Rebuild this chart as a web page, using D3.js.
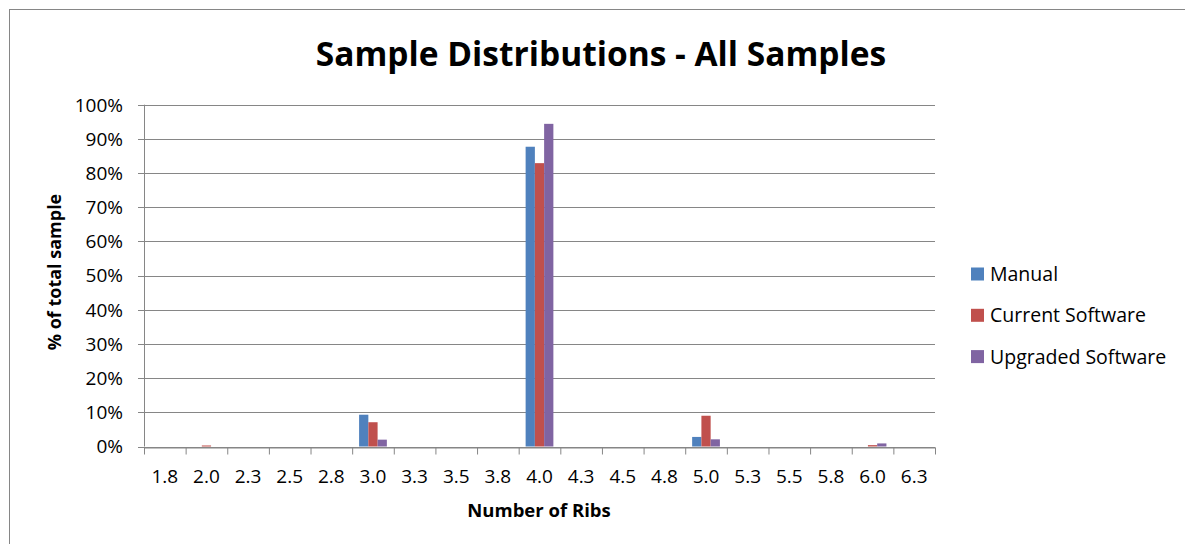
<!DOCTYPE html>
<html>
<head>
<meta charset="utf-8">
<script src="https://cdn.jsdelivr.net/npm/d3@7"></script>
<style>
  body { margin: 0; background: #fff; }
  text { font-family: "Open Sans", sans-serif; fill: #000; }
</style>
</head>
<body>
<svg></svg>
<script>
var width = 1185;
var height = 544;

// categories along x (number of ribs)
var categories = ["1.8","2.0","2.3","2.5","2.8","3.0","3.3","3.5","3.8","4.0",
                  "4.3","4.5","4.8","5.0","5.3","5.5","5.8","6.0","6.3"];
var seriesNames = ["Manual", "Current Software", "Upgraded Software"];
var seriesColors = ["#4F81BD", "#C0504D", "#8064A2"];

// % of total sample, one value per category
var manual   = [0, 0,   0, 0, 0, 9.3, 0, 0, 0, 87.7, 0, 0, 0, 2.8, 0, 0, 0, 0,   0];
var current  = [0, 0.3, 0, 0, 0, 7.1, 0, 0, 0, 82.9, 0, 0, 0, 9.0, 0, 0, 0, 0.4, 0];
var upgraded = [0, 0,   0, 0, 0, 2.0, 0, 0, 0, 94.4, 0, 0, 0, 2.1, 0, 0, 0, 0.9, 0];

var yTicks = [0, 10, 20, 30, 40, 50, 60, 70, 80, 90, 100];

var series = [manual, current, upgraded];

var plot = {left: 144, right: 935, top: 104.7, bottom: 446.5};

var svg = d3.select("svg")
    .attr("width", width)
    .attr("height", height);

// chart border (right/bottom fall outside the picture)
svg.append("rect")
    .attr("x", 9.5).attr("y", 9.5)
    .attr("width", 1200).attr("height", 600)
    .attr("fill", "#fff")
    .attr("stroke", "#868686")
    .attr("stroke-width", 1);

var x0 = d3.scaleBand()
    .domain(categories)
    .range([plot.left, plot.right])
    .padding(0);

// gap width 150% like excel
var x1 = d3.scaleBand()
    .domain(d3.range(series.length))
    .range([0, x0.bandwidth()])
    .paddingInner(0)
    .paddingOuter(0.75);

var y = d3.scaleLinear()
    .domain([0, 100])
    .range([plot.bottom, plot.top]);

// gridlines
svg.append("g")
    .selectAll("line")
    .data(yTicks)
    .enter().append("line")
      .attr("x1", plot.left - 6)
      .attr("x2", plot.right)
      .attr("y1", function(d) { return Math.round(y(d)) + 0.5; })
      .attr("y2", function(d) { return Math.round(y(d)) + 0.5; })
      .attr("stroke", "#868686")
      .attr("stroke-width", 1);

// y labels
svg.append("g")
    .selectAll("text")
    .data(yTicks)
    .enter().append("text")
      .attr("x", 123)
      .attr("y", function(d) { return y(d); })
      .attr("dy", "0.36em")
      .attr("text-anchor", "end")
      .style("font-size", "19px")
      .text(function(d) { return d + "%"; });

// bars
var groups = svg.append("g")
    .selectAll("g")
    .data(series)
    .enter().append("g")
      .attr("fill", function(d, i) { return seriesColors[i]; });

groups.each(function(vals, si) {
  d3.select(this).selectAll("rect")
    .data(vals)
    .enter().append("rect")
      .attr("x", function(d, ci) { return x0(categories[ci]) + x1(si); })
      .attr("width", x1.bandwidth())
      .attr("y", function(d) { return y(d); })
      .attr("height", function(d) { return y(0) - y(d); });
});

// y axis line
svg.append("line")
    .attr("x1", plot.left + 0.5).attr("x2", plot.left + 0.5)
    .attr("y1", plot.top).attr("y2", plot.bottom)
    .attr("stroke", "#868686");

// x axis with ticks at category boundaries
var xi = d3.scaleLinear()
    .domain([0, categories.length])
    .range([plot.left, plot.right]);

var xAxis = svg.append("g")
    .attr("transform", "translate(0," + (Math.round(y(0)) + 0.5) + ")")
    .call(d3.axisBottom(xi)
      .tickValues(d3.range(categories.length + 1))
      .tickSize(7)
      .tickSizeOuter(0)
      .tickFormat(""));
xAxis.selectAll("line, path").attr("stroke", "#868686");

svg.append("g")
    .selectAll("text")
    .data(categories)
    .enter().append("text")
      .attr("x", function(d) { return x0(d) + x0.bandwidth() / 2; })
      .attr("y", 483)
      .attr("text-anchor", "middle")
      .style("font-size", "19px")
      .text(function(d) { return d; });

// titles
svg.append("text")
    .attr("x", 601)
    .attr("y", 66)
    .attr("text-anchor", "middle")
    .style("font-size", "33.5px")
    .style("font-weight", "bold")
    .text("Sample Distributions - All Samples");

svg.append("text")
    .attr("x", 539)
    .attr("y", 517)
    .attr("text-anchor", "middle")
    .style("font-size", "18.5px")
    .style("font-weight", "bold")
    .text("Number of Ribs");

svg.append("text")
    .attr("transform", "translate(61,272) rotate(-90)")
    .attr("text-anchor", "middle")
    .style("font-size", "18px")
    .style("font-weight", "bold")
    .text("% of total sample");

// legend
var legend = svg.append("g")
    .selectAll("g")
    .data(seriesNames)
    .enter().append("g")
      .attr("transform", function(d, i) { return "translate(971," + (274 + i * 41.3) + ")"; });

legend.append("rect")
    .attr("x", 0).attr("y", -6.5)
    .attr("width", 13).attr("height", 13)
    .attr("fill", function(d, i) { return seriesColors[i]; });

legend.append("text")
    .attr("x", 19)
    .attr("dy", "0.36em")
    .style("font-size", "19.5px")
    .text(function(d) { return d; });
</script>
</body>
</html>
